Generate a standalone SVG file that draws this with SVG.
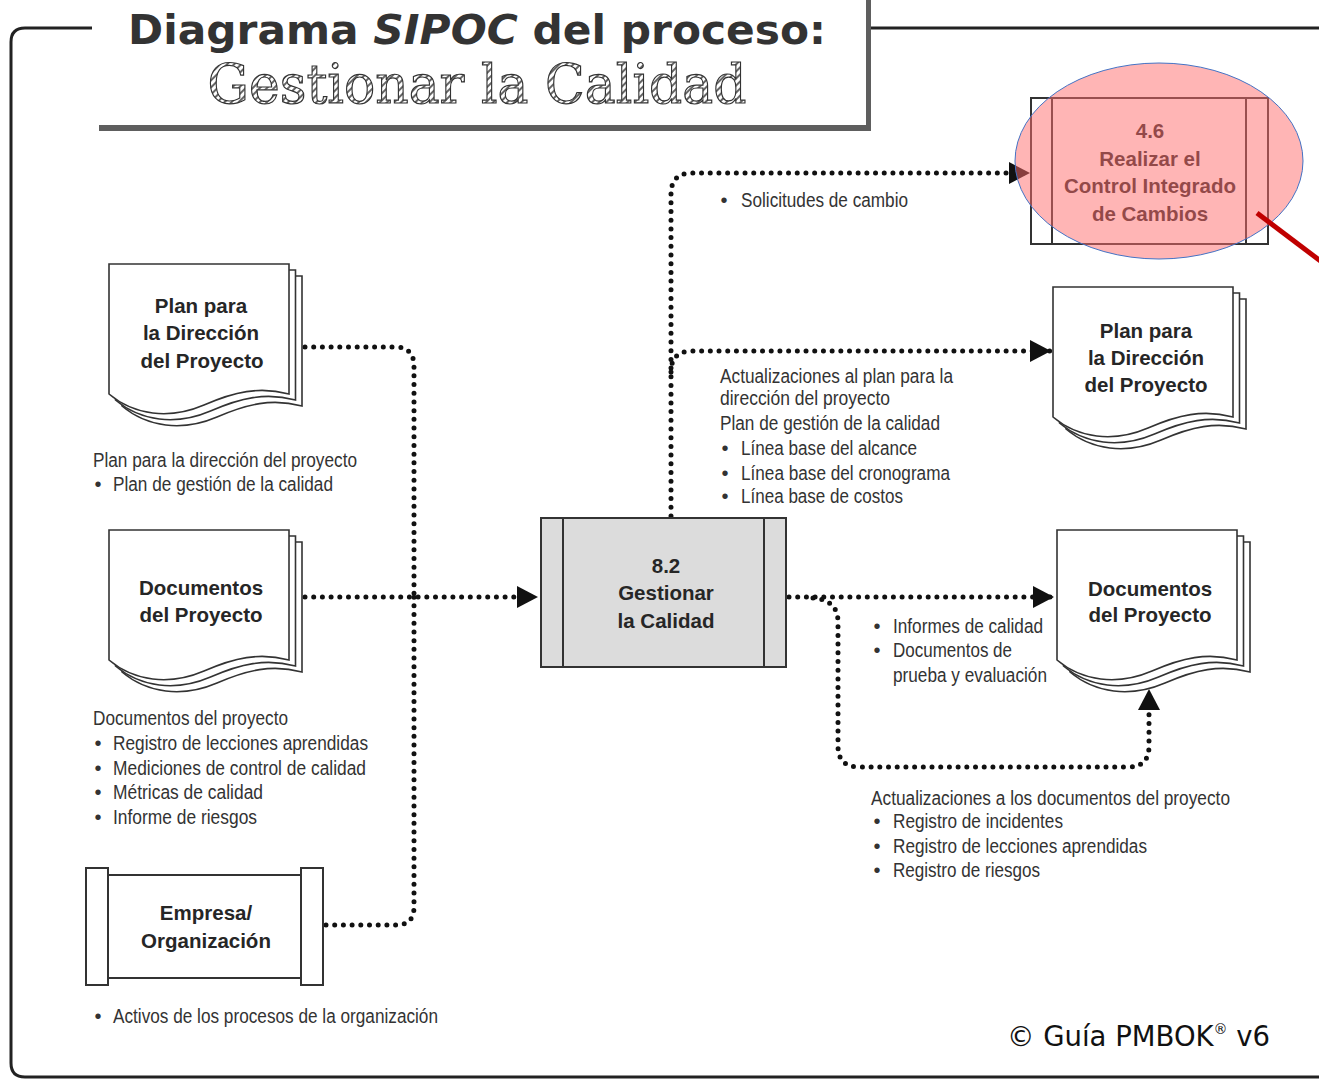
<svg xmlns="http://www.w3.org/2000/svg" xmlns:xlink="http://www.w3.org/1999/xlink" width="1319" height="1081" viewBox="0 0 1319 1081">
<style>
.frame{fill:none;stroke:#222;stroke-width:3}
.box{fill:#fff;stroke:#333;stroke-width:2}
.proc{fill:#dcdcdc;stroke:#333;stroke-width:2}
.pg{fill:#fff;stroke:#333;stroke-width:1.6}
.nt{font-family:"Liberation Sans",Arial,sans-serif;font-weight:bold;font-size:20.5px;fill:#262626;text-anchor:middle}
.lb{font-family:"Liberation Sans Narrow","Liberation Sans",Arial,sans-serif;font-size:20px;fill:#333}
.bl{font-family:"Liberation Sans",Arial,sans-serif;font-size:20px;fill:#333;text-anchor:middle}
.dot{fill:none;stroke:#111;stroke-width:5;stroke-linecap:round;stroke-dasharray:0 8.7}
</style>
<defs>
<marker id="arr" markerUnits="userSpaceOnUse" markerWidth="22" markerHeight="22" viewBox="0 0 21 22" refX="21" refY="11" orient="auto">
<path d="M0,0 L21,11 L0,22 Z" fill="#111"/>
</marker>
<pattern id="hatch" patternUnits="userSpaceOnUse" width="5" height="5" patternTransform="rotate(45)">
<rect width="5" height="5" fill="#fff"/>
<line x1="1" y1="0" x2="1" y2="5" stroke="#555" stroke-width="1.8"/>
</pattern>
<path id="page" d="M0,0 H180 V130 C150,122 125,128 95,141 C60,156 25,151 0,130 Z"/>
<g id="docShape">
<use xlink:href="#page" href="#page" class="pg" transform="translate(13,12)"/>
<use xlink:href="#page" href="#page" class="pg" transform="translate(6.5,6)"/>
<use xlink:href="#page" href="#page" class="pg"/>
</g>
</defs>

<rect width="1319" height="1081" fill="#fff"/>

<!-- frame -->
<path class="frame" d="M92,28 H25 Q11,28 11,42 V1063 Q11,1077 25,1077 H1319"/>
<path class="frame" d="M870,28 H1319"/>

<!-- title -->
<g id="title">
<rect x="99" y="-5" width="772" height="136" fill="#5e5e5e"/>
<rect x="93" y="-5" width="773" height="130" fill="#fff"/>
<text x="477" y="44" text-anchor="middle" font-family="DejaVu Sans,sans-serif" font-weight="bold" font-size="41" fill="#333" textLength="698" lengthAdjust="spacingAndGlyphs">Diagrama <tspan font-style="italic">SIPOC</tspan> del proceso:</text>
<text x="477" y="103" text-anchor="middle" font-family="DejaVu Serif,serif" font-size="55" fill="url(#hatch)" stroke="#333" stroke-width="1.2" textLength="539" lengthAdjust="spacingAndGlyphs">Gestionar la Calidad</text>
</g>

<!-- connectors -->
<g id="connectors">
<path class="dot" d="M305,347 H395 Q414,347 414,366 V597"/>
<path class="dot" d="M326,925 H396 Q414,925 414,907 V597"/>
<path class="dot" d="M305,597 H538" marker-end="url(#arr)"/>
<path class="dot" d="M671,516 V194 Q671,173 692,173 H1030" marker-end="url(#arr)"/>
<path class="dot" d="M671,372 Q671,351 692,351 H1051" marker-end="url(#arr)"/>
<path class="dot" d="M789,597 H1054" marker-end="url(#arr)"/>
<path class="dot" d="M813,598 Q838,600 838,622 V746 Q838,767 859,767 H1128 Q1149,767 1149,746 V689" marker-end="url(#arr)"/>
</g>

<!-- left inputs -->
<g id="plan-in">
<use xlink:href="#docShape" href="#docShape" transform="translate(109,264)"/>
<text class="nt" x="201" y="313">Plan para</text>
<text class="nt" x="201" y="340">la Dirección</text>
<text class="nt" x="202" y="368">del Proyecto</text>
<text class="lb" x="93" y="467" textLength="264" lengthAdjust="spacingAndGlyphs">Plan para la dirección del proyecto</text>
<text class="bl" x="98" y="491">•</text>
<text class="lb" x="113" y="491" textLength="220" lengthAdjust="spacingAndGlyphs">Plan de gestión de la calidad</text>
</g>

<g id="docs-in">
<use xlink:href="#docShape" href="#docShape" transform="translate(109,530)"/>
<text class="nt" x="201" y="595">Documentos</text>
<text class="nt" x="201" y="622">del Proyecto</text>
<text class="lb" x="93" y="725" textLength="195" lengthAdjust="spacingAndGlyphs">Documentos del proyecto</text>
<text class="bl" x="98" y="750">•</text>
<text class="lb" x="113" y="750" textLength="255" lengthAdjust="spacingAndGlyphs">Registro de lecciones aprendidas</text>
<text class="bl" x="98" y="775">•</text>
<text class="lb" x="113" y="775" textLength="253" lengthAdjust="spacingAndGlyphs">Mediciones de control de calidad</text>
<text class="bl" x="98" y="799">•</text>
<text class="lb" x="113" y="799" textLength="150" lengthAdjust="spacingAndGlyphs">Métricas de calidad</text>
<text class="bl" x="98" y="824">•</text>
<text class="lb" x="113" y="824" textLength="144" lengthAdjust="spacingAndGlyphs">Informe de riesgos</text>
</g>

<g id="empresa">
<rect class="box" x="86" y="868" width="22" height="117"/>
<rect class="box" x="301" y="868" width="22" height="117"/>
<rect class="box" x="108" y="875" width="193" height="103"/>
<text class="nt" x="206" y="920">Empresa/</text>
<text class="nt" x="206" y="948">Organización</text>
<text class="bl" x="98" y="1023">•</text>
<text class="lb" x="113" y="1023" textLength="325" lengthAdjust="spacingAndGlyphs">Activos de los procesos de la organización</text>
</g>

<!-- process -->
<g id="proc-8-2">
<rect class="proc" x="541" y="518" width="245" height="149"/>
<line x1="563" y1="518" x2="563" y2="667" stroke="#333" stroke-width="2"/>
<line x1="764" y1="518" x2="764" y2="667" stroke="#333" stroke-width="2"/>
<text class="nt" x="666" y="573">8.2</text>
<text class="nt" x="666" y="600">Gestionar</text>
<text class="nt" x="666" y="628">la Calidad</text>
</g>

<!-- outputs -->
<g id="out-labels">
<text class="bl" x="724" y="207">•</text>
<text class="lb" x="741" y="207" textLength="167" lengthAdjust="spacingAndGlyphs">Solicitudes de cambio</text>
<text class="lb" x="720" y="383" textLength="233" lengthAdjust="spacingAndGlyphs">Actualizaciones al plan para la</text>
<text class="lb" x="720" y="405" textLength="170" lengthAdjust="spacingAndGlyphs">dirección del proyecto</text>
<text class="lb" x="720" y="430" textLength="220" lengthAdjust="spacingAndGlyphs">Plan de gestión de la calidad</text>
<text class="bl" x="725" y="455">•</text>
<text class="lb" x="741" y="455" textLength="176" lengthAdjust="spacingAndGlyphs">Línea base del alcance</text>
<text class="bl" x="725" y="480">•</text>
<text class="lb" x="741" y="480" textLength="209" lengthAdjust="spacingAndGlyphs">Línea base del cronograma</text>
<text class="bl" x="725" y="503">•</text>
<text class="lb" x="741" y="503" textLength="162" lengthAdjust="spacingAndGlyphs">Línea base de costos</text>
<text class="bl" x="877" y="633">•</text>
<text class="lb" x="893" y="633" textLength="150" lengthAdjust="spacingAndGlyphs">Informes de calidad</text>
<text class="bl" x="877" y="657">•</text>
<text class="lb" x="893" y="657" textLength="119" lengthAdjust="spacingAndGlyphs">Documentos de</text>
<text class="lb" x="893" y="682" textLength="154" lengthAdjust="spacingAndGlyphs">prueba y evaluación</text>
<text class="lb" x="871" y="805" textLength="359" lengthAdjust="spacingAndGlyphs">Actualizaciones a los documentos del proyecto</text>
<text class="bl" x="877" y="828">•</text>
<text class="lb" x="893" y="828" textLength="170" lengthAdjust="spacingAndGlyphs">Registro de incidentes</text>
<text class="bl" x="877" y="853">•</text>
<text class="lb" x="893" y="853" textLength="254" lengthAdjust="spacingAndGlyphs">Registro de lecciones aprendidas</text>
<text class="bl" x="877" y="877">•</text>
<text class="lb" x="893" y="877" textLength="147" lengthAdjust="spacingAndGlyphs">Registro de riesgos</text>
</g>

<g id="plan-out">
<use xlink:href="#docShape" href="#docShape" transform="translate(1053,287)"/>
<text class="nt" x="1146" y="338">Plan para</text>
<text class="nt" x="1146" y="365">la Dirección</text>
<text class="nt" x="1146" y="392">del Proyecto</text>
</g>

<g id="docs-out">
<use xlink:href="#docShape" href="#docShape" transform="translate(1057,530)"/>
<text class="nt" x="1150" y="596">Documentos</text>
<text class="nt" x="1150" y="622">del Proyecto</text>
</g>

<g id="proc-4-6">
<rect class="box" x="1031" y="98" width="237" height="146"/>
<line x1="1052" y1="98" x2="1052" y2="244" stroke="#333" stroke-width="2"/>
<line x1="1246" y1="98" x2="1246" y2="244" stroke="#333" stroke-width="2"/>
<text class="nt" x="1150" y="138">4.6</text>
<text class="nt" x="1150" y="166">Realizar el</text>
<text class="nt" x="1150" y="193">Control Integrado</text>
<text class="nt" x="1150" y="221">de Cambios</text>
</g>

<!-- highlight -->
<g id="highlight">
<ellipse cx="1159" cy="161" rx="144" ry="98" fill="#ff6b6b" fill-opacity="0.5" stroke="#4472c4" stroke-width="1"/>
<line x1="1257" y1="213" x2="1335" y2="272" stroke="#c00000" stroke-width="5"/>
</g>

<text x="1007" y="1046" font-family="DejaVu Sans,sans-serif" font-size="27.5" fill="#111">© Guía PMBOK<tspan font-size="14" dy="-12">®</tspan><tspan dy="12"> v6</tspan></text>
</svg>
